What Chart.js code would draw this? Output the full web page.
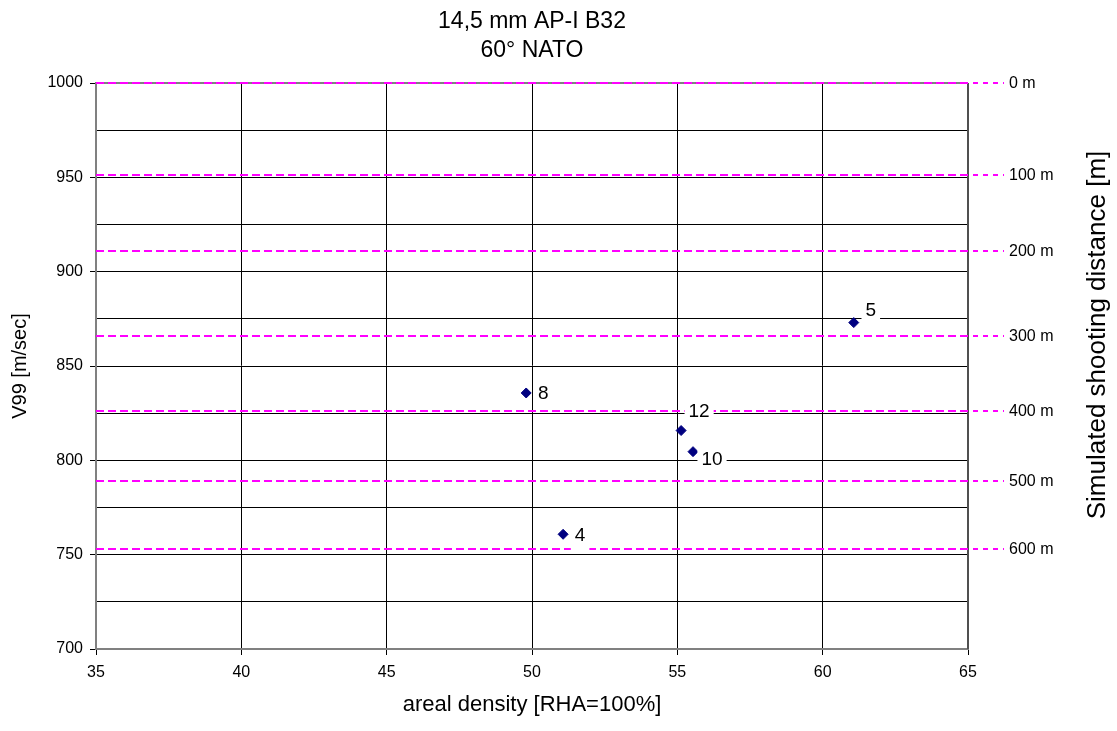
<!DOCTYPE html>
<html>
<head>
<meta charset="utf-8">
<script src="https://cdn.jsdelivr.net/npm/chart.js@4.4.1/dist/chart.umd.min.js"></script>
<style>
  body { margin: 0; background: #fff; }
  canvas { display: block; }
</style>
</head>
<body>
<canvas id="chart" width="1117" height="731"></canvas>
<script>
// measured points: areal density [RHA=100%] / V99 [m/sec]
const density = [61.07, 49.8, 55.13, 55.54, 51.07];
const v99 = [873, 835.7, 815.8, 804.6, 760.8];
const pointLabels = ['5', '8', '12', '10', '4'];

// simulated shooting distance and the matching velocity
const distLabels = ['0 m', '100 m', '200 m', '300 m', '400 m', '500 m', '600 m'];
const distVelocity = [1000, 951, 911, 866, 826, 789, 753];

const xTicks = [35, 40, 45, 50, 55, 60, 65];
const titleLines = ['14,5 mm AP-I B32', '60° NATO'];

// where the point labels sit relative to their marker (px)
const labelOffsets = [[17, -13], [17, 0], [18, -20], [19, 7], [17, 0]];

const FONT = "'Liberation Sans', Arial, sans-serif";

const extras = {
    id: 'extras',
    beforeDatasetsDraw(chart) {
        const { ctx, chartArea: a, scales: { y } } = chart;
        ctx.save();

        // frame right / top
        ctx.strokeStyle = '#505050';
        ctx.lineWidth = 2;
        ctx.beginPath();
        ctx.moveTo(a.right, a.top);
        ctx.lineTo(a.right, a.bottom);
        ctx.stroke();
        ctx.strokeStyle = '#808080';
        ctx.beginPath();
        ctx.moveTo(a.left, a.top);
        ctx.lineTo(a.right, a.top);
        ctx.stroke();

        // distance lines
        ctx.strokeStyle = '#ff00ff';
        ctx.lineWidth = 2;
        ctx.font = '16px ' + FONT;
        ctx.fillStyle = '#000';
        ctx.textBaseline = 'middle';
        ctx.textAlign = 'left';
        distVelocity.forEach((v, i) => {
            const py = Math.round(y.getPixelForValue(v));
            ctx.setLineDash([8, 4]);
            ctx.beginPath();
            ctx.moveTo(a.left, py);
            ctx.lineTo(a.right, py);
            ctx.stroke();
            ctx.setLineDash([5, 5]);
            ctx.beginPath();
            ctx.moveTo(a.right + 5, py);
            ctx.lineTo(a.right + 36, py);
            ctx.stroke();
            ctx.fillText(distLabels[i], a.right + 41, py + 1);
        });
        ctx.setLineDash([]);

        // chart title
        const cx = (a.left + a.right) / 2;
        ctx.textAlign = 'center';
        ctx.font = '23px ' + FONT;
        ctx.fillText(titleLines[0], cx, 22);
        ctx.fillText(titleLines[1], cx, 51);

        // right axis title
        ctx.save();
        ctx.translate(1098, 335);
        ctx.rotate(-Math.PI / 2);
        ctx.font = '26px ' + FONT;
        ctx.fillText('Simulated shooting distance [m]', 0, 0);
        ctx.restore();

        ctx.restore();
    },
    afterDatasetsDraw(chart) {
        const { ctx } = chart;
        const pts = chart.getDatasetMeta(0).data;
        ctx.save();
        ctx.font = '19px ' + FONT;
        ctx.textBaseline = 'middle';
        ctx.textAlign = 'center';
        pts.forEach((p, i) => {
            const tx = p.x + labelOffsets[i][0];
            const ty = p.y + labelOffsets[i][1];
            const w = ctx.measureText(pointLabels[i]).width;
            ctx.fillStyle = '#fff';
            ctx.fillRect(tx - w / 2 - 4, ty - 16, w + 8, 33);
            ctx.fillStyle = '#000';
            ctx.fillText(pointLabels[i], tx, ty + 1);
        });
        ctx.restore();
    }
};

new Chart(document.getElementById('chart'), {
    type: 'scatter',
    data: {
        datasets: [{
            data: density.map((d, i) => ({ x: d, y: v99[i] })),
            pointStyle: 'rectRot',
            pointRadius: 5,
            pointBackgroundColor: '#000080',
            pointBorderColor: '#000080',
            pointBorderWidth: 1
        }]
    },
    options: {
        responsive: false,
        animation: false,
        layout: { padding: { top: 83, right: 149, left: 0, bottom: 0 } },
        plugins: {
            legend: { display: false },
            tooltip: { enabled: false }
        },
        scales: {
            x: {
                type: 'linear',
                min: 35,
                max: 65,
                afterBuildTicks: s => { s.ticks = xTicks.map(v => ({ value: v })); },
                ticks: { font: { family: FONT, size: 16 }, color: '#000', padding: 8 },
                grid: { color: '#000', lineWidth: 1, tickLength: 6, tickColor: '#000' },
                border: { color: '#808080', width: 2 },
                title: {
                    display: true,
                    text: 'areal density [RHA=100%]',
                    font: { family: FONT, size: 22 },
                    color: '#000',
                    padding: { top: 0, bottom: 13 }
                },
                afterFit: s => { s.height = 82; }
            },
            y: {
                min: 700,
                max: 1000,
                ticks: {
                    stepSize: 25,
                    font: { family: FONT, size: 16 },
                    color: '#000',
                    padding: 7,
                    callback: v => (v % 50 === 0 ? v : '')
                },
                grid: {
                    color: '#000',
                    lineWidth: 1,
                    tickLength: 6,
                    tickColor: c => (c.tick && c.tick.value % 50 === 0 ? '#000' : 'rgba(0,0,0,0)')
                },
                border: { color: '#808080', width: 2 },
                title: {
                    display: true,
                    text: 'V99 [m/sec]',
                    font: { family: FONT, size: 20 },
                    color: '#000',
                    padding: { top: 8, bottom: 0 }
                },
                afterFit: s => { s.width = 96; }
            }
        }
    },
    plugins: [extras]
});
</script>
</body>
</html>
